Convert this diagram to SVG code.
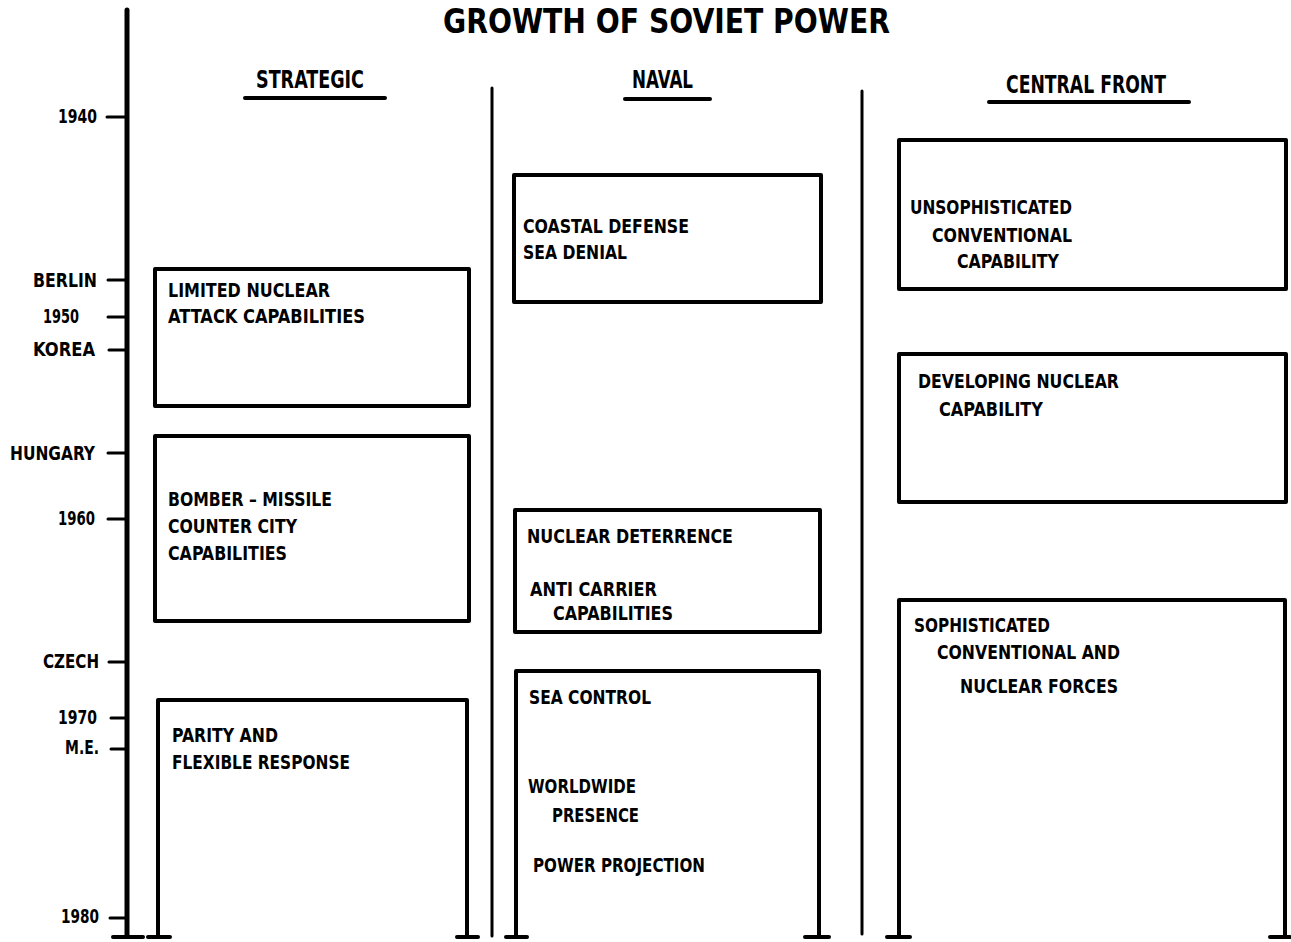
<svg xmlns="http://www.w3.org/2000/svg" width="1291" height="942" viewBox="0 0 1291 942">
<style>
text{font-family:"Liberation Sans Narrow","DejaVu Sans Condensed","Liberation Sans",sans-serif;font-weight:bold;fill:#000}
.t{font-size:19px}
.h{font-size:25px}
.title{font-size:34px}
.box{fill:none;stroke:#000;stroke-width:4;stroke-linejoin:round}
.ln{stroke:#000;stroke-width:3;stroke-linecap:round;fill:none}
.ax{stroke:#000;stroke-width:5;stroke-linecap:round;fill:none}
.ul{stroke:#000;stroke-width:4;stroke-linecap:round}
.ft{stroke:#000;stroke-width:4;stroke-linecap:round}
</style>
<rect width="1291" height="942" fill="#fff"/>
<text class="title" x="443" y="33" textLength="447" lengthAdjust="spacingAndGlyphs">GROWTH OF SOVIET POWER</text>

<g id="headings">
<text class="h" x="256" y="88" textLength="108" lengthAdjust="spacingAndGlyphs">STRATEGIC</text>
<line class="ul" x1="245" y1="98" x2="385" y2="98"/>
<text class="h" x="632" y="88" textLength="61" lengthAdjust="spacingAndGlyphs">NAVAL</text>
<line class="ul" x1="625" y1="99" x2="710" y2="99"/>
<text class="h" x="1006" y="93" textLength="160" lengthAdjust="spacingAndGlyphs">CENTRAL FRONT</text>
<line class="ul" x1="989" y1="102" x2="1189" y2="102"/>
</g>

<g id="timeline">
<line class="ax" x1="127" y1="10" x2="127" y2="936"/>
<line class="ft" x1="113" y1="937" x2="143" y2="937"/>
<g class="ticks">
<line class="ln" x1="107" y1="117" x2="127" y2="117"/>
<line class="ln" x1="108" y1="280" x2="127" y2="280"/>
<line class="ln" x1="108" y1="317" x2="127" y2="317"/>
<line class="ln" x1="109" y1="350" x2="127" y2="350"/>
<line class="ln" x1="108" y1="453" x2="127" y2="453"/>
<line class="ln" x1="108" y1="519" x2="127" y2="519"/>
<line class="ln" x1="109" y1="662" x2="127" y2="662"/>
<line class="ln" x1="111" y1="718" x2="127" y2="718"/>
<line class="ln" x1="111" y1="749" x2="127" y2="749"/>
<line class="ln" x1="110" y1="918" x2="127" y2="918"/>
</g>
<text class="t" x="58" y="123" textLength="39" lengthAdjust="spacingAndGlyphs">1940</text>
<text class="t" x="33" y="287" textLength="64" lengthAdjust="spacingAndGlyphs">BERLIN</text>
<text class="t" x="43" y="323" textLength="36" lengthAdjust="spacingAndGlyphs">1950</text>
<text class="t" x="33" y="356" textLength="62" lengthAdjust="spacingAndGlyphs">KOREA</text>
<text class="t" x="10" y="460" textLength="85" lengthAdjust="spacingAndGlyphs">HUNGARY</text>
<text class="t" x="58" y="525" textLength="37" lengthAdjust="spacingAndGlyphs">1960</text>
<text class="t" x="43" y="668" textLength="56" lengthAdjust="spacingAndGlyphs">CZECH</text>
<text class="t" x="58" y="724" textLength="39" lengthAdjust="spacingAndGlyphs">1970</text>
<text class="t" x="65" y="754" textLength="34" lengthAdjust="spacingAndGlyphs">M.E.</text>
<text class="t" x="61" y="923" textLength="38" lengthAdjust="spacingAndGlyphs">1980</text>
</g>

<g id="dividers">
<line class="ln" x1="492" y1="88" x2="492" y2="936"/>
<line class="ln" x1="862" y1="91" x2="862" y2="934"/>
</g>

<g id="strategic-limited">
<rect class="box" x="155" y="269" width="314" height="137"/>
<text class="t" x="168" y="297" textLength="162" lengthAdjust="spacingAndGlyphs">LIMITED NUCLEAR</text>
<text class="t" x="168" y="323" textLength="197" lengthAdjust="spacingAndGlyphs">ATTACK CAPABILITIES</text>
</g>
<g id="strategic-bomber">
<rect class="box" x="155" y="436" width="314" height="185"/>
<text class="t" x="168" y="506" textLength="164" lengthAdjust="spacingAndGlyphs">BOMBER – MISSILE</text>
<text class="t" x="168" y="533" textLength="129" lengthAdjust="spacingAndGlyphs">COUNTER CITY</text>
<text class="t" x="168" y="560" textLength="119" lengthAdjust="spacingAndGlyphs">CAPABILITIES</text>
</g>
<g id="strategic-parity">
<path class="box" d="M158 937 V700 H467 V937"/>
<line class="ft" x1="148" y1="937" x2="170" y2="937"/>
<line class="ft" x1="457" y1="937" x2="478" y2="937"/>
<text class="t" x="172" y="742" textLength="106" lengthAdjust="spacingAndGlyphs">PARITY AND</text>
<text class="t" x="172" y="769" textLength="178" lengthAdjust="spacingAndGlyphs">FLEXIBLE RESPONSE</text>
</g>

<g id="naval-coastal">
<rect class="box" x="514" y="175" width="307" height="127"/>
<text class="t" x="523" y="233" textLength="166" lengthAdjust="spacingAndGlyphs">COASTAL DEFENSE</text>
<text class="t" x="523" y="259" textLength="104" lengthAdjust="spacingAndGlyphs">SEA DENIAL</text>
</g>
<g id="naval-deterrence">
<rect class="box" x="515" y="510" width="305" height="122"/>
<text class="t" x="527" y="543" textLength="206" lengthAdjust="spacingAndGlyphs">NUCLEAR DETERRENCE</text>
<text class="t" x="530" y="596" textLength="127" lengthAdjust="spacingAndGlyphs">ANTI CARRIER</text>
<text class="t" x="553" y="620" textLength="120" lengthAdjust="spacingAndGlyphs">CAPABILITIES</text>
</g>
<g id="naval-seacontrol">
<path class="box" d="M516 937 V671 H819 V937"/>
<line class="ft" x1="506" y1="937" x2="527" y2="937"/>
<line class="ft" x1="805" y1="937" x2="829" y2="937"/>
<text class="t" x="529" y="704" textLength="122" lengthAdjust="spacingAndGlyphs">SEA CONTROL</text>
<text class="t" x="528" y="793" textLength="108" lengthAdjust="spacingAndGlyphs">WORLDWIDE</text>
<text class="t" x="552" y="822" textLength="87" lengthAdjust="spacingAndGlyphs">PRESENCE</text>
<text class="t" x="533" y="872" textLength="172" lengthAdjust="spacingAndGlyphs">POWER PROJECTION</text>
</g>

<g id="central-unsophisticated">
<rect class="box" x="899" y="140" width="387" height="149"/>
<text class="t" x="910" y="214" textLength="162" lengthAdjust="spacingAndGlyphs">UNSOPHISTICATED</text>
<text class="t" x="932" y="242" textLength="140" lengthAdjust="spacingAndGlyphs">CONVENTIONAL</text>
<text class="t" x="957" y="268" textLength="102" lengthAdjust="spacingAndGlyphs">CAPABILITY</text>
</g>
<g id="central-developing">
<rect class="box" x="899" y="354" width="387" height="148"/>
<text class="t" x="918" y="388" textLength="201" lengthAdjust="spacingAndGlyphs">DEVELOPING NUCLEAR</text>
<text class="t" x="939" y="416" textLength="104" lengthAdjust="spacingAndGlyphs">CAPABILITY</text>
</g>
<g id="central-sophisticated">
<path class="box" d="M899 937 V600 H1285 V937"/>
<line class="ft" x1="887" y1="937" x2="910" y2="937"/>
<line class="ft" x1="1270" y1="937" x2="1290" y2="937"/>
<text class="t" x="914" y="632" textLength="136" lengthAdjust="spacingAndGlyphs">SOPHISTICATED</text>
<text class="t" x="937" y="659" textLength="183" lengthAdjust="spacingAndGlyphs">CONVENTIONAL AND</text>
<text class="t" x="960" y="693" textLength="158" lengthAdjust="spacingAndGlyphs">NUCLEAR FORCES</text>
</g>
</svg>
